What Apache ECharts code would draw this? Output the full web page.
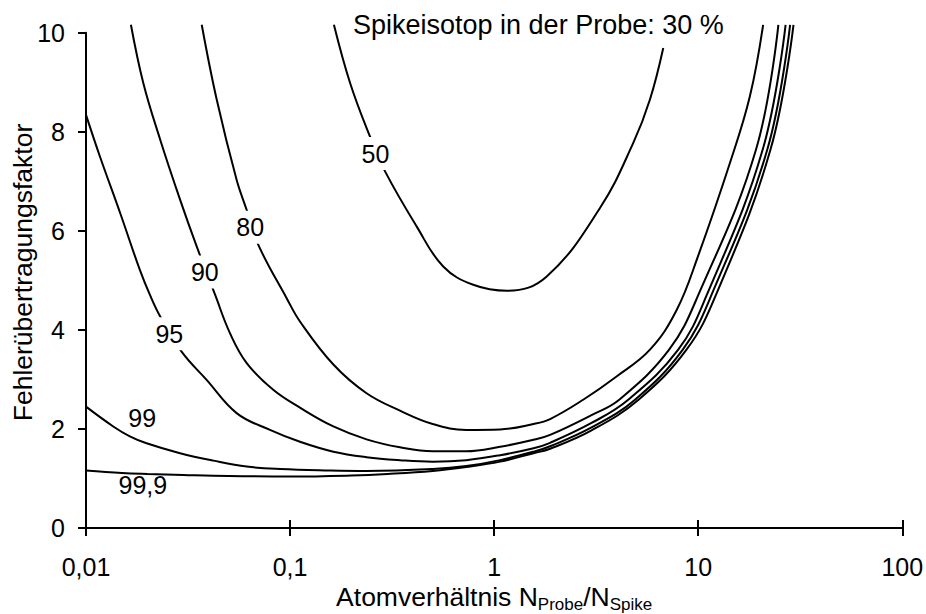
<!DOCTYPE html>
<html><head><meta charset="utf-8">
<script src="https://cdn.jsdelivr.net/npm/echarts@6/dist/echarts.min.js"></script>
<style>html,body{margin:0;padding:0;background:#fff}#c{width:926px;height:614px}</style>
</head><body><div id="c"></div>
<script>
// ---- data ----
const xTickLabels = ['0,01', '0,1', '1', '10', '100'];
const chartTitle = 'Spikeisotop in der Probe: 30 %';
const yTitle = 'Fehlerübertragungsfaktor';

const curve50 = [[0.164,10.16],[0.197,8.98],[0.2465,7.9],[0.292,7.2],[0.417,6.09],[0.563,5.28],[0.79,4.91],[1.16,4.79],[1.81,5.08],[3.3,6.46],[4.8,7.77],[5.8,8.65],[6.74,9.69]];
const curve80 = [[0.0369,10.16],[0.0437,8.65],[0.0547,7.03],[0.0613,6.42],[0.0698,5.72],[0.0962,4.64],[0.1118,4.17],[0.163,3.3],[0.237,2.72],[0.3455,2.37],[0.5,2.1],[0.73,1.98],[1.07,1.99],[1.56,2.1],[1.88,2.2],[2.73,2.59],[3.98,3.06],[5.8,3.6],[7.84,4.4],[10,5.5],[14.3,7.37],[17.9,8.71],[20.8,10.16]];
const curve90 = [[0.0166,10.16],[0.0191,8.98],[0.0231,7.84],[0.0289,6.63],[0.0349,5.68],[0.0429,4.71],[0.0508,3.93],[0.0613,3.33],[0.0827,2.79],[0.1118,2.43],[0.163,2.05],[0.237,1.79],[0.3455,1.63],[0.5,1.55],[0.73,1.55],[1.07,1.64],[1.56,1.78],[1.88,1.88],[3,2.28],[4.1,2.59],[7.2,3.6],[10,4.7],[19.2,7.64],[24.7,10.16]];
const curve95 = [[0.01,8.34],[0.0117,7.5],[0.0147,6.36],[0.0184,5.2],[0.0206,4.7],[0.0231,4.27],[0.0294,3.56],[0.039,2.99],[0.0547,2.32],[0.0797,1.98],[0.1118,1.74],[0.163,1.54],[0.237,1.43],[0.3455,1.37],[0.5,1.34],[0.73,1.37],[1.07,1.47],[1.56,1.61],[1.88,1.72],[3,2.12],[4.54,2.59],[7.98,3.6],[11,4.7],[20.7,7.64],[26.8,10.16]];
const curve99 = [[0.01,2.45],[0.0136,2.05],[0.0164,1.85],[0.0198,1.71],[0.0289,1.51],[0.0421,1.36],[0.0613,1.24],[0.0893,1.19],[0.157,1.16],[0.237,1.15],[0.5,1.19],[0.73,1.25],[1.07,1.37],[1.56,1.54],[1.88,1.65],[3,2.03],[4.9,2.59],[8.4,3.6],[11.6,4.7],[21.8,7.64],[28.2,10.16]];
const curve999 = [[0.01,1.16],[0.015,1.11],[0.02,1.09],[0.03,1.07],[0.05,1.05],[0.1,1.04],[0.2,1.06],[0.3,1.09],[0.5,1.15],[0.73,1.23],[1.07,1.34],[1.56,1.51],[1.88,1.6],[3,1.97],[5.1,2.59],[8.76,3.6],[12.2,4.7],[22.6,7.64],[29.3,10.16]];

// curve labels: [x, y, text]
const gapLabels = [[0.262,7.56,'50'],[0.0638,6.07,'80'],[0.0382,5.17,'90'],[0.0256,3.92,'95']];
const freeLabels = [[0.01886,2.23,'99'],[0.019,0.87,'99,9']];

// ---- chart ----
const FONT = 'Liberation Sans, Arial, sans-serif';
const chart = echarts.init(document.getElementById('c'), null, {renderer: 'svg'});

function curveSeries(name, data) {
  return {
    name: name, type: 'line', data: data, showSymbol: false, smooth: 0.4,
    clip: false, z: 2,
    lineStyle: {color: '#000', width: 2}
  };
}
function labelSeries(data, bg) {
  return {
    type: 'scatter', data: data, symbolSize: 0, z: 10, silent: true,
    itemStyle: {opacity: 1},
    label: {
      show: true, position: 'inside', formatter: p => p.value[2],
      color: '#000', opacity: 1, fontSize: 25, fontFamily: FONT,
      textBorderWidth: 0,
      backgroundColor: bg ? '#fff' : 'transparent', padding: bg ? [4, 2] : 0
    }
  };
}

const axisLineStyle = {color: '#000', width: 2};

chart.setOption({
  animation: false,
  backgroundColor: '#fff',
  title: {
    text: chartTitle, left: 353, top: 11, padding: 0,
    textStyle: {fontSize: 27, fontWeight: 'normal', color: '#000', fontFamily: FONT}
  },
  graphic: [{
    type: 'text', x: 23, y: 272.5, rotation: Math.PI / 2, silent: true,
    style: {
      text: yTitle, fill: '#000', fontSize: 26.5, fontFamily: FONT,
      align: 'center', verticalAlign: 'middle'
    }
  }],
  grid: {left: 86, right: 23.7, top: 32.7, bottom: 86, containLabel: false, outerBoundsMode: 'none'},
  xAxis: [{
    type: 'log', logBase: 10, min: 0.01, max: 100, position: 'bottom',
    name: '{m|Atomverhältnis N}{s|Probe}{m|/N}{s|Spike}',
    nameLocation: 'middle', nameGap: 53,
    nameTextStyle: {
      rich: {
        m: {fontSize: 26.5, lineHeight: 31, fontFamily: FONT, color: '#000'},
        s: {fontSize: 17, lineHeight: 17, verticalAlign: 'bottom', fontFamily: FONT, color: '#000'}
      }
    },
    axisLine: {show: true, lineStyle: axisLineStyle},
    axisTick: {show: true, length: 8, lineStyle: axisLineStyle},
    axisLabel: {
      margin: 26, color: '#000', fontSize: 25, fontFamily: FONT,
      formatter: v => xTickLabels[Math.round(Math.log10(v)) + 2]
    },
    splitLine: {show: false}, minorTick: {show: false}
  }, {
    type: 'log', logBase: 10, min: 0.01, max: 100, position: 'bottom',
    axisLine: {show: false},
    axisTick: {show: true, inside: true, length: 8, lineStyle: axisLineStyle},
    axisLabel: {show: false}, splitLine: {show: false}
  }],
  yAxis: {
    type: 'value', min: 0, max: 10, interval: 2,
    axisLine: {show: true, lineStyle: axisLineStyle},
    axisTick: {show: true, length: 8, lineStyle: axisLineStyle},
    axisLabel: {margin: 21, color: '#000', fontSize: 25, fontFamily: FONT},
    splitLine: {show: false}
  },
  series: [
    curveSeries('50', curve50),
    curveSeries('80', curve80),
    curveSeries('90', curve90),
    curveSeries('95', curve95),
    curveSeries('99', curve99),
    curveSeries('99,9', curve999),
    labelSeries(gapLabels, true),
    labelSeries(freeLabels, false)
  ]
});
</script>
</body></html>
